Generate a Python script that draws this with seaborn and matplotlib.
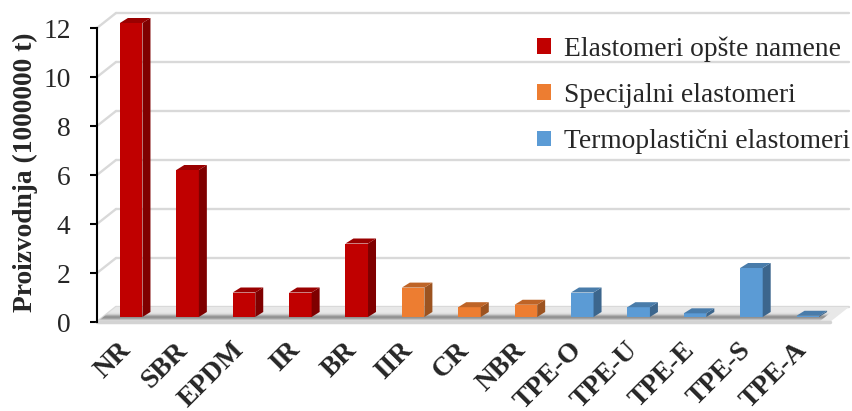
import numpy as np
import pandas as pd
import matplotlib
matplotlib.use("Agg")
import matplotlib.pyplot as plt
import seaborn as sns
from matplotlib.patches import Polygon, Rectangle
from matplotlib.lines import Line2D
from matplotlib.colors import to_rgb
from matplotlib.transforms import ScaledTranslation

# --- data -------------------------------------------------------------
categories = ["NR", "SBR", "EPDM", "IR", "BR", "IIR", "CR", "NBR",
              "TPE-O", "TPE-U", "TPE-E", "TPE-S", "TPE-A"]
production = [12, 6, 1, 1, 3, 1.2, 0.4, 0.5, 1, 0.4, 0.15, 2, 0.05]
group_names = ["Elastomeri opšte namene", "Specijalni elastomeri",
               "Termoplastični elastomeri"]
group_of = [0, 0, 0, 0, 0, 1, 1, 1, 2, 2, 2, 2, 2]
group_colors = ["#C00000", "#ED7D31", "#5B9BD5"]
y_ticks = [0, 2, 4, 6, 8, 10, 12]
y_label = "Proizvodnja (1000000 t)"

df = pd.DataFrame({
    "Elastomer": categories,
    "Proizvodnja": production,
    "Grupa": [group_names[g] for g in group_of],
})

# --- style ------------------------------------------------------------
sns.set_style("white")
plt.rcParams["font.family"] = ["Liberation Serif", "DejaVu Serif"]
FS = 19.8

W, H = 853, 411
fig = plt.figure(figsize=(W / 100, H / 100), dpi=100)
L, R, T, B = 97, 830, 28, 322          # front plane of the plot, pixels
ax = fig.add_axes([L / W, 1 - B / H, (R - L) / W, (B - T) / H])

sns.barplot(data=df, x="Elastomer", y="Proizvodnja", hue="Grupa",
            hue_order=group_names, palette=group_colors, dodge=False,
            width=0.40, saturation=1, ax=ax)
bars = [p for p in ax.patches if isinstance(p, Rectangle)]

n = len(categories)
ax.set_xlim(-0.5, n - 0.5)
ax.set_ylim(y_ticks[0], y_ticks[-1])

# pixel -> data unit conversion for the pseudo-3D depth
ux = (R - L) / n
uy = (B - T) / (y_ticks[-1] - y_ticks[0])
wall_dx, wall_dy = 19 / ux, 15 / uy     # back wall offset
bar_ox, bar_oy = 6 / ux, 5 / uy         # bars sit a bit behind the front plane
bar_dx, bar_dy = 8 / ux, 5 / uy         # bar depth

grid_c = "#D9D9D9"
x0, x1 = -0.5, n - 0.5

# back-wall gridlines and their slanted continuation on the side wall
for t in y_ticks:
    ax.add_line(Line2D([x0 + wall_dx, x1 + wall_dx], [t + wall_dy, t + wall_dy],
                       color=grid_c, lw=1.7, zorder=0.5, clip_on=False))
    ax.add_line(Line2D([x0, x0 + wall_dx], [t, t + wall_dy],
                       color=grid_c, lw=1.7, zorder=0.5, clip_on=False))

# floor
floor = Polygon([(x0, 0), (x1, 0), (x1 + wall_dx, wall_dy), (x0 + wall_dx, wall_dy)],
                closed=True, facecolor="#E8E8E8", edgecolor="none",
                zorder=0.6, clip_on=False)
ax.add_patch(floor)
# soft shadow band on the floor
fr = np.linspace(0.0, 0.8, 48)
for a, b in zip(fr[:-1], fr[1:]):
    m = 0.5 * (a + b)
    alpha = 0.8 * np.exp(-((m - 0.32) / 0.15) ** 2)
    ax.add_patch(Polygon([(x0 + a * wall_dx, a * wall_dy), (x1 + a * wall_dx - 0.2, a * wall_dy),
                          (x1 + b * wall_dx - 0.2, b * wall_dy), (x0 + b * wall_dx, b * wall_dy)],
                         closed=True, facecolor="#555555", edgecolor="none",
                         alpha=alpha, zorder=0.7, clip_on=False))
ax.add_line(Line2D([x0, x1], [0, 0], color="#D3D3D3", lw=2.5,
                   zorder=0.8, clip_on=False))


def shade(c, f):
    r, g, b = to_rgb(c)
    return (r * f, g * f, b * f)


# give every bar a top and a side face
for p in bars:
    h = p.get_height()
    if not np.isfinite(h) or h <= 0:
        continue
    w = p.get_width()
    xs = p.get_x() + bar_ox
    ys = bar_oy
    col = p.get_facecolor()
    p.set_x(xs)
    p.set_y(ys)
    p.set_edgecolor("none")
    p.set_zorder(2)
    p.set_clip_on(False)
    side = Polygon([(xs + w, ys), (xs + w + bar_dx, ys + bar_dy),
                    (xs + w + bar_dx, ys + h + bar_dy), (xs + w, ys + h)],
                   closed=True, facecolor=shade(col, 0.66), edgecolor="none",
                   zorder=2, clip_on=False)
    top = Polygon([(xs, ys + h), (xs + bar_dx, ys + h + bar_dy),
                   (xs + w + bar_dx, ys + h + bar_dy), (xs + w, ys + h)],
                  closed=True, facecolor=shade(col, 0.8), edgecolor="none",
                  zorder=2, clip_on=False)
    ax.add_patch(side)
    ax.add_patch(top)

# axes
for s in ["top", "right", "bottom"]:
    ax.spines[s].set_visible(False)
ax.spines["left"].set_color("black")
ax.spines["left"].set_linewidth(1.5)
ax.spines["left"].set_zorder(3)
ax.set_yticks(y_ticks)
ax.tick_params(axis="y", left=True, length=5, width=1.5, color="black",
               direction="out", labelsize=FS, pad=14)
ax.tick_params(axis="x", bottom=False, length=0, labelsize=FS, pad=11)
ax.set_xlabel("")
ax.set_ylabel("")
label_shift = ScaledTranslation(-7 / 100, 0, fig.dpi_scale_trans)
for lab in ax.get_xticklabels():
    lab.set_rotation(45)
    lab.set_ha("right")
    lab.set_rotation_mode("anchor")
    lab.set_fontweight("bold")
    lab.set_transform(lab.get_transform() + label_shift)

fig.text(25 / W, 1 - 172 / H, y_label, rotation=90, ha="center", va="center",
         fontsize=FS, fontweight="bold")

handles, labels = ax.get_legend_handles_labels()
for hd in handles:
    hd.set_edgecolor("none")
ax.legend(handles, labels, loc="upper left",
          bbox_to_anchor=(537 / W, 1 - 36 / H), bbox_transform=fig.transFigure,
          frameon=False, fontsize=FS, handlelength=0.5, handleheight=0.5,
          handletextpad=0.5, labelspacing=0.78, borderpad=0, borderaxespad=0)

fig.savefig("out.png", dpi=100)
